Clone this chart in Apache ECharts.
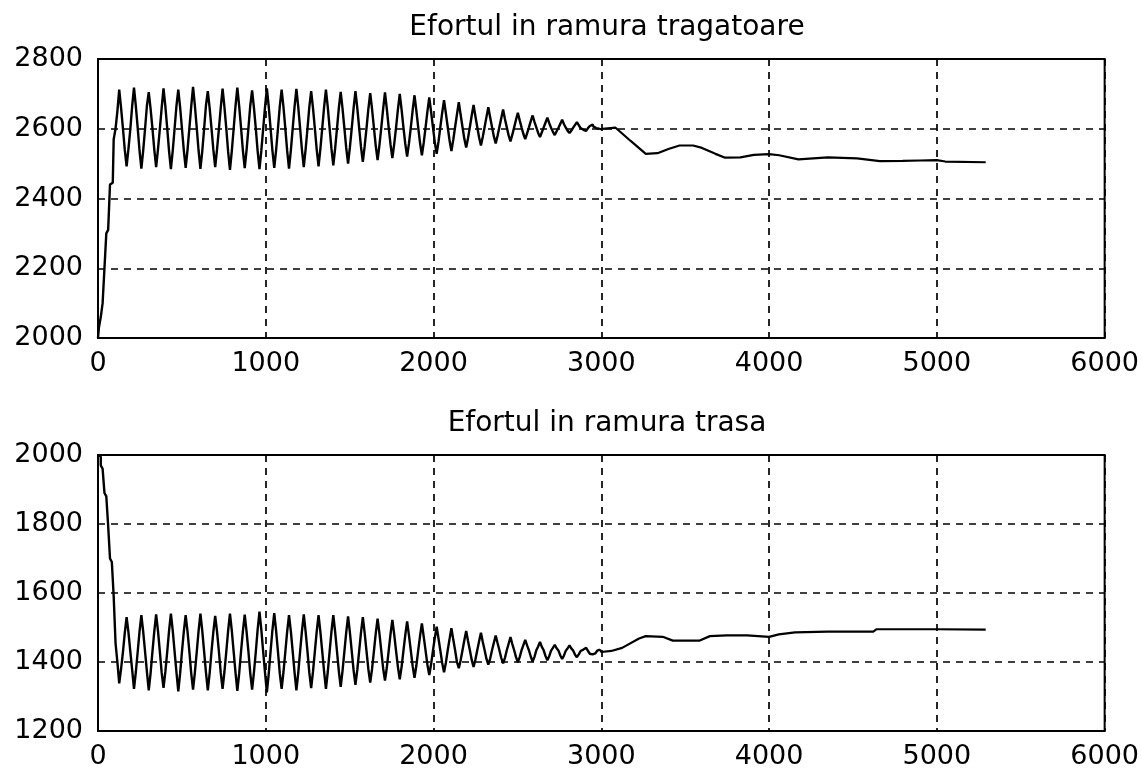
<!DOCTYPE html>
<html>
<head>
<meta charset="utf-8">
<script src="https://cdn.jsdelivr.net/npm/echarts@6/dist/echarts.min.js"></script>
<style>
  html, body { margin: 0; padding: 0; background: #fff; }
  #chart { width: 1142px; height: 770px; }
</style>
</head>
<body>
<div id="chart"></div>
<script>
// Simulation output: belt branch forces, sampled every SAMPLE_STEP time units
const SAMPLE_STEP = 11;

const titles = ['Efortul in ramura tragatoare', 'Efortul in ramura trasa'];
const xTicks = [0, 1000, 2000, 3000, 4000, 5000, 6000];
const yTicksTrag = [2000, 2200, 2400, 2600, 2800];
const yTicksTrasa = [1200, 1400, 1600, 1800, 2000];

// tight-side force, oscillating part (t = 0 .. 2992)
const tragSamples = [
  2000, 2030, 2060, 2100, 2200, 2300, 2310, 2440, 2445, 2570, 2600, 2650,
  2712, 2660, 2602, 2540, 2492, 2542, 2598, 2664,
  2718, 2665, 2603, 2537, 2486, 2538, 2600, 2666,
  2705, 2657, 2601, 2540, 2490, 2541, 2599, 2660,
  2716, 2664, 2602, 2536, 2484, 2537, 2600, 2665,
  2712, 2661, 2600, 2538, 2488, 2539, 2601, 2663,
  2720, 2666, 2603, 2537, 2485, 2536, 2600, 2667,
  2708, 2659, 2601, 2540, 2490, 2541, 2599, 2660,
  2715, 2663, 2602, 2535, 2482, 2536, 2600, 2664,
  2718, 2665, 2603, 2538, 2487, 2539, 2601, 2666,
  2710, 2660, 2601, 2536, 2484, 2537, 2600, 2662,
  2716, 2664, 2602, 2538, 2488, 2538, 2600, 2664,
  2712, 2662, 2601, 2537, 2486, 2538, 2601, 2663,
  2714, 2663, 2602, 2540, 2490, 2541, 2600, 2662,
  2708, 2659, 2601, 2541, 2492, 2542, 2601, 2661,
  2712, 2662, 2602, 2543, 2495, 2544, 2601, 2660,
  2706, 2658, 2602, 2545, 2500, 2547, 2602, 2659,
  2708, 2659, 2603, 2548, 2505, 2550, 2602, 2657,
  2702, 2656, 2603, 2551, 2510, 2553, 2603, 2656,
  2704, 2657, 2604, 2555, 2516, 2556, 2603, 2655,
  2700, 2655, 2604, 2557, 2520, 2558, 2604, 2653,
  2696, 2652, 2604, 2559, 2524, 2560, 2604, 2650,
  2690, 2648, 2604, 2561, 2528, 2563, 2605, 2646,
  2682, 2644, 2605, 2566, 2536, 2568, 2605, 2641,
  2676, 2640, 2605, 2571, 2546, 2573, 2605, 2638,
  2668, 2636, 2605, 2575, 2552, 2577, 2605, 2634,
  2662, 2632, 2605, 2578, 2558, 2580, 2605, 2630,
  2655, 2628, 2604, 2581, 2564, 2583, 2604, 2626,
  2646, 2624, 2604, 2585, 2570, 2587, 2604, 2622,
  2638, 2620, 2604, 2588, 2576, 2590, 2604, 2618,
  2632, 2616, 2603, 2591, 2582, 2593, 2603, 2614,
  2626, 2613, 2603, 2594, 2588, 2595, 2603, 2611,
  2619, 2610, 2602, 2597, 2594, 2598, 2602, 2608,
  2612, 2606, 2602, 2600, 2599
];
// tight-side force, settling part [t, value]
const tragTail = [
  [3000, 2600], [3085, 2603], [3175, 2565], [3265, 2528], [3335, 2530],
  [3400, 2542], [3466, 2552], [3547, 2552], [3600, 2545], [3680, 2528],
  [3738, 2517], [3829, 2518], [3909, 2525], [4000, 2527], [4060, 2524],
  [4175, 2512], [4350, 2518], [4524, 2515], [4660, 2507], [4796, 2508],
  [4900, 2509], [5000, 2510], [5050, 2506], [5291, 2504]
];

// slack-side force, oscillating part (t = 0 .. 2992)
const trasaSamples = [
  2000, 1995, 1970, 1960, 1890, 1880, 1795, 1700, 1690, 1590, 1455, 1400,
  1338, 1380, 1428, 1484, 1530, 1486, 1431, 1378,
  1322, 1371, 1429, 1488, 1536, 1487, 1430, 1372,
  1318, 1368, 1430, 1489, 1538, 1490, 1431, 1369,
  1325, 1372, 1429, 1490, 1540, 1491, 1430, 1371,
  1315, 1367, 1430, 1488, 1536, 1489, 1431, 1368,
  1320, 1370, 1429, 1490, 1540, 1490, 1430, 1370,
  1318, 1368, 1430, 1487, 1534, 1488, 1431, 1369,
  1322, 1371, 1429, 1490, 1540, 1491, 1430, 1370,
  1316, 1367, 1430, 1489, 1537, 1488, 1431, 1368,
  1320, 1370, 1429, 1494, 1546, 1493, 1430, 1369,
  1312, 1365, 1430, 1492, 1542, 1491, 1431, 1367,
  1322, 1371, 1429, 1488, 1536, 1489, 1430, 1370,
  1318, 1368, 1430, 1489, 1538, 1488, 1431, 1369,
  1324, 1372, 1430, 1488, 1536, 1487, 1431, 1373,
  1322, 1371, 1430, 1488, 1536, 1487, 1431, 1373,
  1328, 1374, 1430, 1486, 1532, 1485, 1431, 1376,
  1334, 1377, 1431, 1485, 1530, 1484, 1431, 1379,
  1340, 1380, 1431, 1483, 1526, 1482, 1432, 1382,
  1346, 1384, 1432, 1481, 1522, 1480, 1432, 1386,
  1350, 1386, 1432, 1478, 1518, 1477, 1433, 1388,
  1354, 1389, 1433, 1475, 1512, 1473, 1433, 1392,
  1362, 1394, 1433, 1470, 1502, 1468, 1433, 1397,
  1370, 1398, 1434, 1467, 1498, 1465, 1434, 1400,
  1382, 1405, 1434, 1463, 1490, 1461, 1434, 1406,
  1386, 1407, 1434, 1460, 1485, 1458, 1434, 1409,
  1392, 1410, 1434, 1456, 1477, 1455, 1434, 1412,
  1396, 1412, 1434, 1453, 1472, 1452, 1434, 1414,
  1400, 1414, 1434, 1449, 1464, 1448, 1434, 1416,
  1401, 1415, 1434, 1445, 1458, 1444, 1434, 1417,
  1405, 1417, 1433, 1441, 1450, 1440, 1433, 1419,
  1409, 1419, 1433, 1440, 1448, 1439, 1433, 1421,
  1414, 1422, 1432, 1436, 1441, 1436, 1432, 1424,
  1422, 1425, 1430, 1433, 1436
];
// slack-side force, settling part [t, value]
const trasaTail = [
  [3000, 1429], [3060, 1432], [3124, 1441], [3225, 1468], [3265, 1475],
  [3366, 1473], [3426, 1462], [3587, 1462], [3647, 1475], [3748, 1477],
  [3869, 1477], [4000, 1473], [4058, 1480], [4155, 1486], [4350, 1488],
  [4621, 1488], [4641, 1495], [5000, 1495], [5291, 1494]
];

function sampledPoints(samples) {
  return samples.map((v, i) => [i * SAMPLE_STEP, v]);
}
// the settling part continues from the last sampled point
function tailPoints(samples, tail) {
  const last = samples.length - 1;
  return [[last * SAMPLE_STEP, samples[last]]].concat(tail);
}

const FONT = 'DejaVu Sans';
const labelStyle = { color: '#000', fontFamily: FONT, fontSize: 27, formatter: v => String(v) };
const gridLine = { show: true, lineStyle: { color: '#000', width: 1.7, type: [7, 6] } };

function xAxisFor(gridIndex) {
  return {
    type: 'value', gridIndex,
    min: xTicks[0], max: xTicks[xTicks.length - 1], interval: 1000,
    axisLine: { show: false }, axisTick: { show: false },
    axisLabel: Object.assign({ margin: 12 }, labelStyle),
    splitLine: gridLine
  };
}
function yAxisFor(gridIndex, ticks) {
  return {
    type: 'value', gridIndex,
    min: ticks[0], max: ticks[ticks.length - 1], interval: 200,
    axisLine: { show: false }, axisTick: { show: false },
    axisLabel: Object.assign({ margin: 15 }, labelStyle),
    splitLine: gridLine
  };
}
function trace(axisIndex, data, step, width) {
  return { type: 'line', xAxisIndex: axisIndex, yAxisIndex: axisIndex, step: step,
    showSymbol: false, lineStyle: { color: '#000', width: width }, data: data };
}

const chart = echarts.init(document.getElementById('chart'), null, { renderer: 'canvas' });
chart.setOption({
  backgroundColor: '#fff',
  animation: false,
  title: [
    { text: titles[0], left: 602, top: 9, textAlign: 'center',
      textStyle: { color: '#000', fontFamily: FONT, fontSize: 28, fontWeight: 'normal' } },
    { text: titles[1], left: 602, top: 405, textAlign: 'center',
      textStyle: { color: '#000', fontFamily: FONT, fontSize: 28, fontWeight: 'normal' } }
  ],
  grid: [
    { left: 98, right: 35, top: 59, height: 279, show: true, borderColor: '#000', borderWidth: 2, backgroundColor: 'transparent' },
    { left: 98, right: 35, top: 455, height: 280, show: true, borderColor: '#000', borderWidth: 2, backgroundColor: 'transparent' }
  ],
  xAxis: [xAxisFor(0), xAxisFor(1)],
  yAxis: [yAxisFor(0, yTicksTrag), yAxisFor(1, yTicksTrasa)],
  series: [
    trace(0, sampledPoints(tragSamples), 'middle', 2.4),
    trace(0, tailPoints(tragSamples, tragTail), false, 2.2),
    trace(1, sampledPoints(trasaSamples), 'middle', 2.4),
    trace(1, tailPoints(trasaSamples, trasaTail), false, 2.2)
  ]
});
</script>
</body>
</html>
